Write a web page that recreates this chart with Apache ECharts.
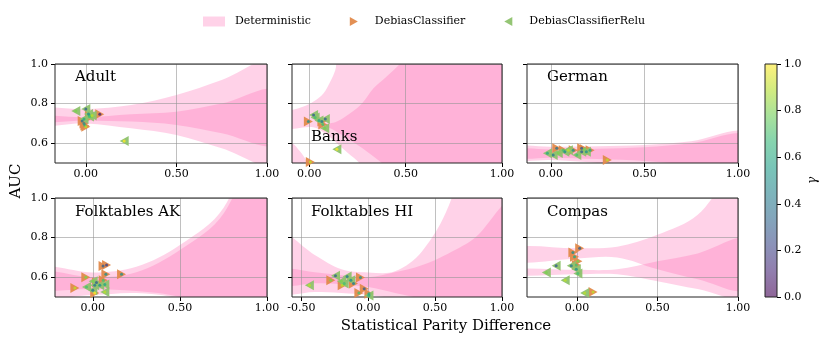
<!DOCTYPE html>
<html>
<head>
<meta charset="utf-8">
<script src="https://cdn.jsdelivr.net/npm/echarts@6/dist/echarts.min.js"></script>
<style>
html, body { margin: 0; padding: 0; background: #fff; }
#chart { width: 831px; height: 343px; }
</style>
</head>
<body>
<div id="chart"></div>
<script>
// ---- panels ----
var panelNames = ['Adult', 'Banks', 'German', 'Folktables AK', 'Folktables HI', 'Compas'];
var xMins = [-0.17, -0.09, -0.127, -0.217, -0.57, -0.31];
var xTicks = [[0, 0.5, 1], [0, 0.5, 1], [0, 0.5, 1], [0, 0.5, 1], [-0.5, 0, 0.5, 1], [0, 0.5, 1]];
var yTicks = [0.6, 0.8, 1.0];

// ---- Deterministic regions (two overlapping translucent bands per panel) ----
var adultX = [-0.25, 0, 0.25, 0.5, 0.75, 1.05];
var adultALo = [0.713, 0.714, 0.709, 0.692, 0.65, 0.60];
var adultAHi = [0.775, 0.772, 0.793, 0.843, 0.919, 1.02];
var adultBLo = [0.69, 0.70, 0.675, 0.641, 0.574, 0.49];
var adultBHi = [0.735, 0.731, 0.746, 0.759, 0.80, 0.862];

var banksA = [[-0.2, 0.76], [-0.09, 0.768], [-0.03, 0.785], [0.022, 0.81], [0.074, 0.852], [0.109, 0.911],
  [0.135, 0.97], [0.16, 1.06], [1.2, 1.06], [1.2, 0.4], [0.3, 0.45], [0.26, 0.5], [0.2, 0.55],
  [0.12, 0.62], [0.08, 0.65], [0.02, 0.68], [-0.09, 0.672], [-0.2, 0.67]];
var banksB = [[0.08, 0.69], [0.143, 0.709], [0.212, 0.751], [0.273, 0.80], [0.333, 0.877], [0.40, 0.936],
  [0.47, 1.0], [0.52, 1.06], [1.2, 1.06], [1.2, 0.4], [0.45, 0.44], [0.376, 0.5], [0.30, 0.557],
  [0.212, 0.616], [0.12, 0.67]];
var banksC = [[-0.2, 0.63], [-0.09, 0.6], [-0.05, 0.56], [-0.01, 0.5], [0.0, 0.44], [-0.2, 0.44]];

var germanX = [-0.2, 0, 0.25, 0.5, 0.75, 1.05];
var germanALo = [0.527, 0.527, 0.52, 0.51, 0.49, 0.45];
var germanAHi = [0.582, 0.582, 0.585, 0.591, 0.61, 0.655];
var germanBLo = [0.515, 0.515, 0.50, 0.48, 0.44, 0.40];
var germanBHi = [0.568, 0.568, 0.572, 0.58, 0.60, 0.64];

var akX = [-0.3, 0, 0.25, 0.5, 0.75, 1.05];
var akALo = [0.545, 0.54, 0.53, 0.50, 0.42, 0.3];
var akAHi = [0.65, 0.624, 0.653, 0.763, 0.95, 1.5];
var akBLo = [0.505, 0.51, 0.52, 0.49, 0.40, 0.28];
var akBHi = [0.625, 0.60, 0.625, 0.737, 0.92, 1.45];

var hiX = [-0.65, -0.4, -0.2, 0, 0.2, 0.4, 0.6, 0.8, 1.05];
var hiALo = [0.57, 0.57, 0.565, 0.55, 0.52, 0.49, 0.45, 0.4, 0.3];
var hiAHi = [0.82, 0.712, 0.64, 0.624, 0.63, 0.729, 0.958, 1.4, 2.0];
var hiBLo = [0.52, 0.525, 0.52, 0.51, 0.49, 0.45, 0.40, 0.35, 0.3];
var hiBHi = [0.635, 0.625, 0.61, 0.60, 0.625, 0.66, 0.72, 0.80, 0.97];

var compasX = [-0.4, 0, 0.25, 0.5, 0.75, 1.05];
var compasALo = [0.678, 0.695, 0.70, 0.64, 0.59, 0.55];
var compasAHi = [0.75, 0.746, 0.754, 0.814, 0.915, 1.2];
var compasBLo = [0.61, 0.615, 0.615, 0.58, 0.54, 0.50];
var compasBHi = [0.641, 0.637, 0.64, 0.68, 0.72, 0.79];

// ---- markers: [SPD, AUC, gamma] ----
var adultOrange = [[0.077, 0.746, 0.1], [-0.01, 0.70, 0.5], [-0.005, 0.69, 0.6], [0.0, 0.683, 0.9], [0.02, 0.74, 0.7], [-0.02, 0.712, 0.4], [0.03, 0.735, 0.8]];
var adultGreen = [[-0.055, 0.762, 0.8], [0.0, 0.773, 0.3], [0.02, 0.735, 0.7], [0.015, 0.748, 0.5], [-0.01, 0.722, 0.6], [0.212, 0.611, 1.0], [0.035, 0.74, 0.9]];
var banksOrange = [[-0.005, 0.709, 0.5], [0.065, 0.71, 0.4], [0.005, 0.505, 0.9], [0.07, 0.695, 0.7]];
var banksGreen = [[0.022, 0.742, 0.3], [0.083, 0.722, 0.3], [0.08, 0.675, 0.8], [0.143, 0.569, 1.0], [0.05, 0.715, 0.6], [0.03, 0.73, 0.7]];
var germanOrange = [[0.032, 0.574, 0.4], [0.067, 0.565, 0.7], [0.12, 0.565, 0.5], [0.165, 0.574, 0.3], [0.21, 0.565, 0.6], [0.302, 0.515, 0.9], [0.18, 0.57, 0.8]];
var germanGreen = [[-0.018, 0.549, 0.6], [0.013, 0.54, 0.4], [0.075, 0.557, 0.5], [0.139, 0.54, 0.7], [0.165, 0.557, 0.3], [0.19, 0.557, 0.5], [0.094, 0.565, 0.9], [0.04, 0.55, 0.8]];
var akOrange = [[0.059, 0.656, 0.3], [0.079, 0.661, 0.2], [0.075, 0.615, 0.5], [0.165, 0.615, 0.5], [-0.04, 0.60, 0.8], [-0.103, 0.546, 0.9], [0.021, 0.573, 0.3], [0.011, 0.52, 1.0], [0.06, 0.585, 0.7]];
var akGreen = [[-0.036, 0.55, 0.7], [0.011, 0.559, 0.4], [0.04, 0.559, 0.5], [0.069, 0.563, 0.6], [0.0, 0.534, 0.4], [0.069, 0.525, 0.9], [0.002, 0.58, 0.8]];
var hiOrange = [[-0.28, 0.585, 0.8], [-0.058, 0.598, 0.5], [-0.11, 0.568, 0.4], [-0.03, 0.542, 0.3], [-0.07, 0.52, 0.7], [0.005, 0.517, 0.6], [-0.195, 0.559, 0.9]];
var hiGreen = [[-0.44, 0.559, 0.9], [-0.245, 0.607, 0.3], [-0.158, 0.603, 0.4], [-0.18, 0.568, 0.7], [-0.13, 0.585, 0.5], [0.005, 0.508, 0.6], [-0.2, 0.58, 0.8]];
var compasOrange = [[0.017, 0.746, 0.3], [-0.025, 0.725, 0.5], [-0.015, 0.703, 0.6], [0.006, 0.681, 0.8], [-0.004, 0.661, 0.7], [0.1, 0.525, 0.9]];
var compasGreen = [[-0.129, 0.658, 0.3], [-0.19, 0.624, 0.8], [-0.035, 0.658, 0.4], [0.006, 0.619, 0.7], [-0.004, 0.64, 0.5], [-0.073, 0.585, 0.9], [0.048, 0.52, 0.9]];

var gammaTicks = [0, 0.2, 0.4, 0.6, 0.8, 1.0];

// ---- styling / layout ----
var PINK = 'rgba(255,105,180,0.3)';
var ORANGE = '#e28a4b';
var GREEN = '#8ec26d';
var SERIF = 'DejaVu Serif';
var viridis = ['#440154', '#482878', '#3e4989', '#31688e', '#26828e', '#1f9e89', '#35b779', '#6ece58', '#b5de2b', '#fde725'];
var gridBoxes = [[55, 64, 212, 99], [292, 64, 210, 99], [527, 64, 211, 99],
                 [55, 198, 212, 99], [292, 198, 210, 99], [527, 198, 211, 99]];
var titlePos = [[75, 70], [311, 130], [547, 70], [75, 205], [311, 205], [547, 205]];

function band(xs, lo, hi) {
  var pts = [];
  for (var i = 0; i < xs.length; i++) pts.push([xs[i], hi[i]]);
  for (var j = xs.length - 1; j >= 0; j--) pts.push([xs[j], lo[j]]);
  return pts;
}
var regions = [
  [band(adultX, adultALo, adultAHi), band(adultX, adultBLo, adultBHi)],
  [banksA, banksB, banksC],
  [band(germanX, germanALo, germanAHi), band(germanX, germanBLo, germanBHi)],
  [band(akX, akALo, akAHi), band(akX, akBLo, akBHi)],
  [band(hiX, hiALo, hiAHi), band(hiX, hiBLo, hiBHi)],
  [band(compasX, compasALo, compasAHi), band(compasX, compasBLo, compasBHi)]
];
var orangePts = [adultOrange, banksOrange, germanOrange, akOrange, hiOrange, compasOrange];
var greenPts = [adultGreen, banksGreen, germanGreen, akGreen, hiGreen, compasGreen];

function rgba(hex, a) {
  var n = parseInt(hex.slice(1), 16);
  return 'rgba(' + (n >> 16) + ',' + ((n >> 8) & 255) + ',' + (n & 255) + ',' + a + ')';
}

var RIGHT_TRI = 'path://M0,0L10,5L0,10Z';
var LEFT_TRI = 'path://M10,0L0,5L10,10Z';

var grids = [], xAxes = [], yAxes = [], series = [], titles = [], dotSeries = [];

for (var p = 0; p < 6; p++) {
  var b = gridBoxes[p];
  grids.push({ left: b[0], top: b[1], width: b[2], height: b[3], show: true, z: 4,
    backgroundColor: 'rgba(0,0,0,0)', borderColor: '#222', borderWidth: 1 });
  xAxes.push({
    type: 'value', gridIndex: p, min: xMins[p], max: 1, z: 3,
    axisLine: { show: false, onZero: false },
    axisTick: { show: true, length: 4, lineStyle: { color: '#000' }, customValues: xTicks[p] },
    axisLabel: { customValues: xTicks[p], margin: 6, color: '#000', fontFamily: SERIF, fontSize: 11,
      formatter: function (v) { return v.toFixed(2); } },
    splitLine: { show: true, lineStyle: { color: 'rgba(150,150,150,0.6)', width: 1 } }
  });
  yAxes.push({
    type: 'value', gridIndex: p, min: 0.5, max: 1.0, z: 3,
    axisLine: { show: false, onZero: false },
    axisTick: { show: true, length: 4, lineStyle: { color: '#000' }, customValues: yTicks },
    axisLabel: { show: p % 3 === 0, customValues: yTicks, margin: 7, color: '#000', fontFamily: SERIF, fontSize: 11,
      formatter: function (v) { return v.toFixed(1); } },
    splitLine: { show: true, lineStyle: { color: 'rgba(150,150,150,0.6)', width: 1 } }
  });
  titles.push({ text: panelNames[p], left: titlePos[p][0], top: titlePos[p][1], padding: 0,
    textStyle: { fontFamily: SERIF, fontWeight: 'normal', fontSize: 15, color: '#000' } });

  (function (polys, idx) {
    series.push({
      type: 'custom', name: 'Deterministic', xAxisIndex: idx, yAxisIndex: idx, clip: true, z: 1,
      itemStyle: { color: PINK },
      data: polys.map(function () { return [0, 0.75]; }),
      renderItem: function (params, api) {
        var pts = polys[params.dataIndex].map(function (pt) { return api.coord(pt); });
        return { type: 'polygon', shape: { points: pts, smooth: 0.35 }, style: { fill: PINK } };
      }
    });
  })(regions[p], p);

  series.push({ type: 'scatter', name: 'DebiasClassifier', xAxisIndex: p, yAxisIndex: p, z: 5,
    symbol: RIGHT_TRI, symbolSize: [9, 10], itemStyle: { color: ORANGE, opacity: 0.95 }, data: orangePts[p] });
  dotSeries.push(series.length);
  series.push({ type: 'scatter', name: 'gamma', xAxisIndex: p, yAxisIndex: p, z: 6,
    symbol: 'circle', symbolSize: 3, data: orangePts[p] });
  series.push({ type: 'scatter', name: 'DebiasClassifierRelu', xAxisIndex: p, yAxisIndex: p, z: 5,
    symbol: LEFT_TRI, symbolSize: [9, 10], itemStyle: { color: GREEN, opacity: 0.95 }, data: greenPts[p] });
  dotSeries.push(series.length);
  series.push({ type: 'scatter', name: 'gamma', xAxisIndex: p, yAxisIndex: p, z: 6,
    symbol: 'circle', symbolSize: 3, data: greenPts[p] });
}

// colorbar
grids.push({ left: 765, top: 64, width: 12, height: 233, show: true, z: 4,
  backgroundColor: 'rgba(0,0,0,0)', borderColor: '#222', borderWidth: 1 });
xAxes.push({ type: 'category', gridIndex: 6, data: ['gamma'], show: false });
yAxes.push({
  type: 'value', gridIndex: 6, min: 0, max: 1, position: 'right', z: 3,
  axisLine: { show: false, onZero: false },
  axisTick: { show: true, length: 4, lineStyle: { color: '#000' }, customValues: gammaTicks },
  axisLabel: { customValues: gammaTicks, margin: 7, color: '#000', fontFamily: SERIF, fontSize: 11,
    formatter: function (v) { return v.toFixed(1); } },
  splitLine: { show: false },
  name: 'γ', nameLocation: 'middle', nameGap: 30, nameRotate: 90,
  nameTextStyle: { fontFamily: SERIF, fontStyle: 'italic', fontSize: 12, color: '#000' }
});
series.push({
  type: 'bar', name: 'colorbar', xAxisIndex: 6, yAxisIndex: 6, barWidth: '100%', silent: true,
  data: [1],
  itemStyle: { color: { type: 'linear', x: 0, y: 0, x2: 0, y2: 1,
    colorStops: viridis.slice().reverse().map(function (c, i) {
      return { offset: i / (viridis.length - 1), color: rgba(c, 0.6) };
    }) } }
});

var option = {
  backgroundColor: '#fff',
  animation: false,
  title: titles,
  legend: {
    left: 198, top: 11, itemWidth: 22, itemHeight: 10, itemGap: 32, selectedMode: false,
    textStyle: { fontFamily: SERIF, fontSize: 11, color: '#000', padding: [0, 0, 0, 5] },
    data: [
      { name: 'Deterministic', icon: 'rect' },
      { name: 'DebiasClassifier', icon: 'path://M0,0M22,10M7,0.5L15,5L7,9.5Z' },
      { name: 'DebiasClassifierRelu', icon: 'path://M0,0M22,10M15,0.5L7,5L15,9.5Z' }
    ]
  },
  visualMap: { show: false, type: 'continuous', min: 0, max: 1, dimension: 2,
    seriesIndex: dotSeries, inRange: { color: viridis } },
  grid: grids,
  xAxis: xAxes,
  yAxis: yAxes,
  series: series,
  graphic: [
    { type: 'text', x: 16, y: 181, rotation: Math.PI / 2,
      style: { text: 'AUC', fill: '#000', font: '15px "DejaVu Serif"', textAlign: 'center', textVerticalAlign: 'middle' } },
    { type: 'text', x: 446, y: 326,
      style: { text: 'Statistical Parity Difference', fill: '#000', font: '15px "DejaVu Serif"', textAlign: 'center', textVerticalAlign: 'middle' } }
  ]
};

var chart = echarts.init(document.getElementById('chart'), null, { renderer: 'canvas' });
chart.setOption(option);
</script>
</body>
</html>
